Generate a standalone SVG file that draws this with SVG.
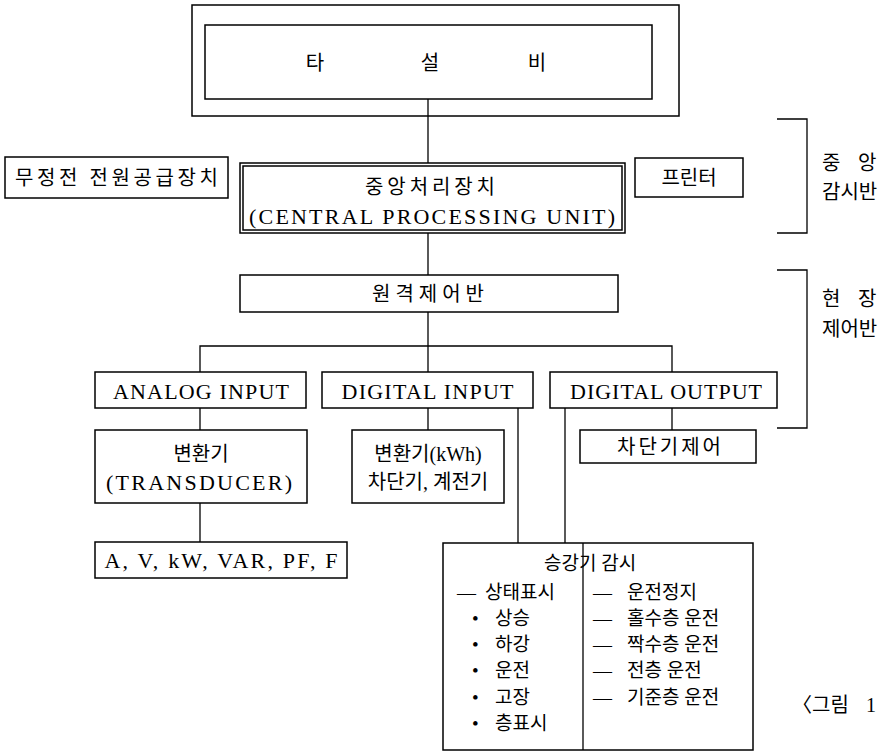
<svg xmlns="http://www.w3.org/2000/svg" width="884" height="755" viewBox="0 0 884 755">
<style>
.b{fill:none;stroke:#000;stroke-width:1.5}
.c{fill:none;stroke:#000;stroke-width:1.3}
text{font-family:"Liberation Serif","Noto Sans CJK KR",serif;fill:#000;dominant-baseline:central}
.m{text-anchor:middle}
.k{font-size:20px}
.s{font-size:19px}
.l{font-size:22px}
</style>
<rect width="884" height="755" fill="#fff"/>
<g id="connectors" class="c">
<path d="M428,99V163"/>
<path d="M428,233V275"/>
<path d="M428,312V346"/>
<path d="M200,372V346H672V372"/>
<path d="M428,346V372"/>
<path d="M200,408V430"/>
<path d="M428,408V430"/>
<path d="M518,408V543"/>
<path d="M565,408V543"/>
<path d="M672,408V430"/>
<path d="M200,503V542"/>
</g>
<g id="frame-top">
<rect class="b" x="192" y="5" width="487" height="111"/>
</g>
<g id="node-taseolbi">
<rect class="b" x="205" y="25" width="447" height="74"/>
<text class="k m" x="315" y="63">타</text>
<text class="k m" x="430" y="63">설</text>
<text class="k m" x="537" y="63">비</text>
</g>
<g id="node-ups">
<rect class="b" x="5" y="157" width="223" height="41"/>
<text class="k m" x="116.5" y="178" textLength="203">무정전 전원공급장치</text>
</g>
<g id="node-cpu">
<rect class="b" x="240" y="163" width="385" height="70"/>
<rect class="b" x="243" y="166" width="379" height="64"/>
<text class="k m" x="430" y="187" textLength="130">중앙처리장치</text>
<text class="l m" x="432" y="216" textLength="366">(CENTRAL PROCESSING UNIT)</text>
</g>
<g id="node-printer">
<rect class="b" x="635" y="158" width="108" height="39"/>
<text class="k m" x="689" y="178">프린터</text>
</g>
<g id="bracket-central">
<path class="c" d="M777,119H807V233H777"/>
<text class="k" x="822" y="163">중</text>
<text class="k" x="858" y="163">앙</text>
<text class="k" x="822" y="192">감시반</text>
</g>
<g id="node-remote">
<rect class="b" x="240" y="275" width="378" height="37"/>
<text class="k m" x="428" y="294">원 격 제 어 반</text>
</g>
<g id="bracket-field">
<path class="c" d="M777,270H807V428H777"/>
<text class="k" x="822" y="299">현</text>
<text class="k" x="858" y="299">장</text>
<text class="k" x="822" y="329">제어반</text>
</g>
<g id="node-ai">
<rect class="b" x="95" y="372" width="211" height="36"/>
<text class="l m" x="201" y="391" textLength="176">ANALOG INPUT</text>
</g>
<g id="node-di">
<rect class="b" x="322" y="372" width="211" height="36"/>
<text class="l m" x="427.5" y="391" textLength="172">DIGITAL INPUT</text>
</g>
<g id="node-do">
<rect class="b" x="550" y="372" width="227" height="36"/>
<text class="l m" x="666" y="391" textLength="192">DIGITAL OUTPUT</text>
</g>
<g id="node-transducer">
<rect class="b" x="95" y="430" width="212" height="73"/>
<text class="k m" x="201" y="454">변환기</text>
<text class="l m" x="199" y="482" textLength="186">(TRANSDUCER)</text>
</g>
<g id="node-kwh">
<rect class="b" x="352" y="430" width="152" height="73"/>
<text class="k m" x="428" y="454">변환기(kWh)</text>
<text class="k m" x="428" y="482">차단기, 계전기</text>
</g>
<g id="node-breaker">
<rect class="b" x="580" y="430" width="176" height="33"/>
<text class="k m" x="669" y="447" textLength="104">차단기제어</text>
</g>
<g id="node-meas">
<rect class="b" x="95" y="542" width="252" height="36"/>
<text class="l m" x="221" y="560" textLength="233">A, V, kW, VAR, PF, F</text>
</g>
<g id="node-elevator">
<rect class="b" x="443" y="543" width="310" height="207"/>
<path class="c" d="M583,543V750"/>
<text class="s" x="544" y="563">승강기 감시</text>
<text class="s" x="457" y="592">—</text><text class="s" x="485" y="592">상태표시</text>
<text class="s" x="472" y="618">•</text><text class="s" x="495" y="618">상승</text>
<text class="s" x="472" y="644">•</text><text class="s" x="495" y="644">하강</text>
<text class="s" x="472" y="670">•</text><text class="s" x="495" y="670">운전</text>
<text class="s" x="472" y="697">•</text><text class="s" x="495" y="697">고장</text>
<text class="s" x="472" y="723">•</text><text class="s" x="495" y="723">층표시</text>
<text class="s" x="593" y="592">—</text><text class="s" x="627" y="592">운전정지</text>
<text class="s" x="593" y="618">—</text><text class="s" x="627" y="618">홀수층 운전</text>
<text class="s" x="593" y="644">—</text><text class="s" x="627" y="644">짝수층 운전</text>
<text class="s" x="593" y="670">—</text><text class="s" x="627" y="670">전층 운전</text>
<text class="s" x="593" y="697">—</text><text class="s" x="627" y="697">기준층 운전</text>
</g>
<g id="caption">
<text class="k" x="792" y="705">〈그림<tspan x="866">1</tspan></text>
</g>
</svg>
